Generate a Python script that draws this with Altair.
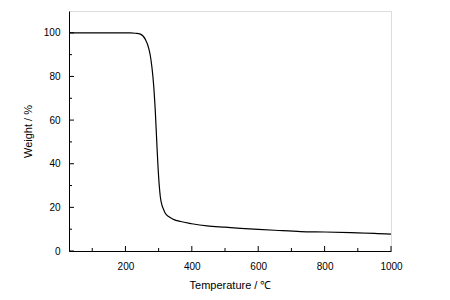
import altair as alt
import pandas as pd

temperature = [30, 100, 150, 200, 215, 230, 245, 260, 270, 275, 280, 285, 290, 295, 300,
               305, 310, 315, 320, 330, 345, 366, 400, 446, 500, 547, 600, 650, 728, 800,
               879, 950, 1000]
weight = [100, 100, 100, 100, 100, 99.8, 99.4, 97, 93, 89.5, 84, 76, 64, 48, 34,
          25, 21, 19, 17.3, 15.8, 14.5, 13.5, 12.5, 11.5, 10.9, 10.4, 9.9, 9.5, 8.9, 8.7,
          8.4, 8.1, 7.7]

x_major = [200, 400, 600, 800, 1000]
x_minor = [100, 300, 500, 700, 900]
y_major = [0, 20, 40, 60, 80, 100]
y_minor = [10, 30, 50, 70, 90]

W, H = 322, 240
FONT = "Liberation Sans"

df = pd.DataFrame({"T": temperature, "W": weight})

xs = alt.Scale(domain=[30, 1000], nice=False, zero=False)
ys = alt.Scale(domain=[0, 110], nice=False)

line = alt.Chart(df).mark_line(color="black", strokeWidth=1.2, interpolate="monotone").encode(
    x=alt.X("T:Q", scale=xs,
            axis=alt.Axis(title="Temperature / ℃", values=x_major, format="d", ticks=False,
                          grid=False, domainColor="black", labelPadding=10, titlePadding=8,
                          labelFontSize=10, titleFontSize=11, titleFontWeight="normal",
                          labelFont=FONT, titleFont=FONT, labelColor="black",
                          titleColor="black", labelFlush=False)),
    y=alt.Y("W:Q", scale=ys,
            axis=alt.Axis(title="Weight / %", values=y_major, format="d", ticks=False,
                          grid=False, domainColor="black", labelPadding=9, titlePadding=10,
                          labelFontSize=10, titleFontSize=11, titleFontWeight="normal",
                          labelFont=FONT, titleFont=FONT, labelColor="black",
                          titleColor="black")),
)

def xticks(vals, length):
    return alt.Chart(pd.DataFrame({"T": vals})).mark_rule(color="black", strokeWidth=1).encode(
        x=alt.X("T:Q", scale=xs), y=alt.value(H), y2=alt.value(H - length))

def yticks(vals, length):
    return alt.Chart(pd.DataFrame({"W": vals})).mark_rule(color="black", strokeWidth=1).encode(
        y=alt.Y("W:Q", scale=ys), x=alt.value(0), x2=alt.value(length))

chart = alt.layer(
    line,
    xticks(x_major, 5), xticks(x_minor, 3),
    yticks(y_major, 5), yticks(y_minor, 3),
).properties(
    width=W, height=H,
    autosize=alt.AutoSizeParams(type="none"),
    padding={"left": 61, "top": 3, "right": 50, "bottom": 45},
).configure_view(stroke="black", strokeWidth=1).configure(background="white")

chart.save("out.html", embed_options={"renderer": "svg", "actions": False})
